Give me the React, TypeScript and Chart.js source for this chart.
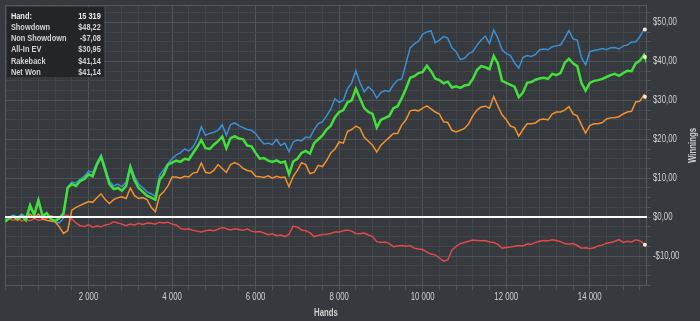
import React, { useEffect, useRef } from "react";
import { Chart, registerables } from "chart.js";

Chart.register(...registerables);

// ---- data ----
const HANDS = [
  0, 100, 200, 300, 400, 500, 600, 700, 800, 900,
  1000, 1100, 1200, 1300, 1400, 1500, 1600, 1700, 1800, 1900,
  2000, 2100, 2200, 2300, 2400, 2500, 2600, 2700, 2800, 2900,
  3000, 3100, 3200, 3300, 3400, 3500, 3600, 3700, 3800, 3900,
  4000, 4100, 4200, 4300, 4400, 4500, 4600, 4700, 4800, 4900,
  5000, 5100, 5200, 5300, 5400, 5500, 5600, 5700, 5800, 5900,
  6000, 6100, 6200, 6300, 6400, 6500, 6600, 6700, 6800, 6900,
  7000, 7100, 7200, 7300, 7400, 7500, 7600, 7700, 7800, 7900,
  8000, 8100, 8200, 8300, 8400, 8500, 8600, 8700, 8800, 8900,
  9000, 9100, 9200, 9300, 9400, 9500, 9600, 9700, 9800, 9900,
  10000, 10100, 10200, 10300, 10400, 10500, 10600, 10700, 10800, 10900,
  11000, 11100, 11200, 11300, 11400, 11500, 11600, 11700, 11800, 11900,
  12000, 12100, 12200, 12300, 12400, 12500, 12600, 12700, 12800, 12900,
  13000, 13100, 13200, 13300, 13400, 13500, 13600, 13700, 13800, 13900,
  14000, 14100, 14200, 14300, 14400, 14500, 14600, 14700, 14800, 14900,
  15000, 15100, 15200, 15300, 15319,
];

const SHOWDOWN = [
  -0.8, 0, 0.5, 0, 0.8, 0, 3.3, 0.8, 4.6, 0.5,
  1.2, -0.6, -1.2, -1.5, -0.3, 7.8, 9, 8.8, 9.8, 10.5,
  11.8, 11.5, 14, 16, 12.8, 9.3, 8, 8.5, 7.8, 9,
  13.4, 10.5, 8.5, 7.5, 6.5, 6, 5.3, 10.8, 12.2, 13.8,
  15, 16, 16.5, 17.5, 17, 18, 20, 23.2, 21, 21.5,
  21.8, 22.3, 23.7, 21, 23.8, 24.2, 23.5, 23, 22.5, 22.3,
  21.5, 20, 18.8, 19, 18.6, 20, 18.4, 19, 16.8, 19.3,
  19.8, 19.6, 20.6, 20.4, 22.5, 24, 24.5, 26, 27.8, 30.4,
  29.5, 30, 33, 34.5, 37.6, 34.5, 32.2, 33.5, 32.5, 30.6,
  32, 32.5, 32.3, 34, 35.2, 35.5, 39.5, 43.5, 44.5, 45.2,
  47, 47.6, 47.9, 44.8, 45.5, 46.4, 46, 43.5, 42.5, 40.5,
  40.8, 42, 42.5, 44.2, 45.5, 46.5, 44.6, 48.1, 46, 43,
  42, 41.5, 39.6, 38.3, 41, 41.5, 41.3, 41.8, 43, 43.2,
  43, 43.8, 44, 44.2, 46, 47.9, 45.8, 45.5, 41, 39.1,
  42.5, 42.8, 43, 43.3, 43, 43.5, 43.6, 43.2, 44, 44.2,
  45, 45, 46.4, 48.3, 48.22,
];

const NON_SHOWDOWN = [
  0, -0.5, -0.8, -0.5, -1, -0.7, -0.9, -0.4, -0.8, -0.6,
  -0.3, 0.4, 0, -0.3, 0.3, 0.5, -0.5, -1.5, -2.2, -2.4,
  -2, -2.6, -2.3, -2.5, -2, -1.8, -1.2, -1.5, -1.8, -2.2,
  -1.8, -2, -1.6, -1.9, -1.5, -1.6, -1.8, -1.3, -1.5, -1.3,
  -1.8, -2, -2.9, -3.2, -3, -3.4, -3.6, -3.8, -3.5, -3.3,
  -3.5, -3.1, -2.7, -3, -3.3, -3, -3.2, -3.4, -3, -3.6,
  -3.8, -3.7, -4.1, -4.5, -4.3, -4.8, -4.6, -5, -4.4, -2.3,
  -2.6, -3.3, -3.5, -4, -5, -4.7, -4.5, -4.4, -4.2, -3.8,
  -3.8, -3.5, -3.3, -3.6, -4.2, -4.3, -4.1, -4.6, -5, -6.3,
  -6.5, -6.4, -6.8, -7.6, -7.4, -7.3, -7.5, -7.3, -8, -8.2,
  -8.3, -9, -9.5, -9.7, -10.5, -11.3, -11, -8.5, -7.5, -6.8,
  -6.5, -6.2, -5.9, -6, -6.1, -6, -6.4, -6.5, -7, -8,
  -7.8, -7.7, -7.5, -7.3, -7.4, -6.9, -7, -6.5, -6.2, -6,
  -6.1, -5.8, -6, -6.3, -6.8, -7, -6.8, -7.3, -8, -7.9,
  -8.1, -7.9, -7.4, -7.2, -6.7, -6.5, -6.2, -5.8, -6.5, -6.2,
  -6.4, -5.8, -6.1, -6.8, -7.08,
];

const ALL_IN_EV = [
  0, -0.3, 0, -0.8, 0.2, -0.5, 0.8, -0.3, 0.8, -0.5,
  -0.8, -1, -1.2, -2.5, -4.2, -3.5, 1.8, 2.5, 3, 3.5,
  4, 3.8, 5, 6, 4.5, 3.5, 4.5, 5, 5.2, 4.8,
  7.5, 5.5, 4.8, 5, 4.5, 2.5, 1.4, 5.5, 6.5, 8,
  10.3, 10.3, 10, 10.5, 10.3, 11.3, 11.5, 13.9, 11.5, 11.3,
  12, 13.5, 12.5, 11.5, 13.5, 14, 13.5, 12.5, 12, 11.8,
  10.5, 10.4, 10.2, 10.6, 10, 10.5, 10.2, 10.3, 7.8, 10.5,
  12, 14, 13.5, 11.2, 11.5, 13.3, 13, 14.5, 16.5, 17.5,
  19.3, 19, 22, 22.5, 23.4, 22.8, 20.5, 19.5, 18.5, 16.7,
  18.5, 19.5, 20.5, 21.5, 21.5, 23.7, 25, 27.3, 27.5, 27.3,
  28, 28.6, 27.8, 27, 26.5, 24.5, 24.3, 22.3, 21.9, 22.3,
  22.8, 24, 26, 27.5, 28.3, 28.5, 28, 31, 28.5, 26.3,
  25, 23.4, 23, 20.8, 22.5, 24, 24, 24.2, 25, 25.2,
  25, 26.5, 27, 27, 27.5, 28.4, 26.5, 26, 23.7, 21.6,
  23.5, 24, 24, 24.3, 25.2, 25.5, 25.6, 25.8, 26.5, 27,
  27.2, 29.6, 29.8, 31.4, 30.95,
];

const NET_WON = [
  -1.2, -0.3, 0.2, -0.5, 0.3, -0.8, 3, 0.5, 4.3, 0.2,
  1, -0.5, -1, -0.3, 1, 7.5, 8.5, 8, 9.3, 9.8,
  11, 10.5, 13.5, 15.5, 12, 8.5, 7.2, 7.5, 6.8, 8,
  12.8, 9.5, 7.5, 6.5, 5.5, 5, 4.5, 9.5, 11, 13.5,
  14, 14.5, 14.2, 15, 14.8, 16.4, 18, 19.8, 17.7, 17.5,
  18.6, 19.5, 20.7, 17.7, 20.3, 20.8, 20.2, 20, 18.4, 18.2,
  16.5, 15, 15.2, 14.5, 14.2, 14.6, 14, 14.3, 11, 14.3,
  15, 16.5, 17, 16.3, 19, 20, 21, 22.5, 23.5, 25.7,
  27, 27.5, 29.5, 30, 33, 30.5, 28, 27, 26.5, 23,
  25, 25.5, 26, 28, 28.5, 30.6, 33, 35.8, 36.2, 37,
  37.3, 38.9, 37.5, 35.6, 35.2, 34.4, 34.8, 33.3, 33.6, 33.2,
  33.8, 34, 35.5, 37.8, 38.8, 38.5, 38, 41.4, 39.5, 35,
  34.5, 34, 33.5, 30.8, 32, 34.5, 34.7, 35.3, 35.6, 35.8,
  35.5, 36.8, 36.5, 37, 39.6, 40.7, 39.5, 38.8, 34.5, 32.5,
  34.5, 35, 35.2, 35.5, 36, 36.5, 36.8, 36.3, 37, 37.6,
  37.5, 39.5, 40.2, 41.7, 41.14,
];

const SUMMARY_LABELS = ["Hand:", "Showdown", "Non Showdown", "All-In EV", "Rakeback", "Net Won"];
const SUMMARY_VALUES = ["15 319", "$48,22", "-$7,08", "$30,95", "$41,14", "$41,14"];

const X_MIN = 0;
const X_MAX = 15370;
const X_STEP = 400;
const X_LABEL_STEP = 2000;
const Y_MIN = -17.7;
const Y_MAX = 54.5;
const Y_STEP = 2.5;
const Y_LABEL_STEP = 10;

// ---- styles ----
const BG = "#36393d";
const GRID_MINOR = "#424549";
const GRID_MAJOR = "#505459";
const BORDER = "#55585d";
const TEXT = "#d2d2d2";
const FONT = "'Liberation Sans', Arial, sans-serif";
const SQUEEZE = 0.78;

const fmtHands = (v: number) => String(Math.round(v)).replace(/\B(?=(\d{3})+(?!\d))/g, " ");
const fmtMoney = (v: number) => (v < 0 ? "-" : "") + "$" + Math.abs(v).toFixed(2).replace(".", ",");
const isMult = (v: number, m: number) => Math.abs(v / m - Math.round(v / m)) < 1e-6;

const series = (ys: number[]) => ys.map((y, i) => ({ x: HANDS[i], y }));

const stepTicks = (min: number, max: number, step: number) => {
  const out: { value: number }[] = [];
  for (let v = Math.ceil(min / step) * step; v <= max + 1e-9; v += step) out.push({ value: Math.round(v * 100) / 100 });
  return out;
};

function squeezedText(c: CanvasRenderingContext2D, s: string, x: number, y: number, align: CanvasTextAlign, font: string, rot = 0) {
  c.save();
  c.font = font;
  c.fillStyle = TEXT;
  c.textAlign = align;
  c.textBaseline = "middle";
  c.translate(x, y);
  if (rot) c.rotate(rot);
  c.scale(SQUEEZE, 1);
  c.fillText(s, 0, 0);
  c.restore();
}

export default function App() {
  const ref = useRef<HTMLCanvasElement | null>(null);

  useEffect(() => {
    const canvas = ref.current;
    if (!canvas) return;

    const deco = {
      id: "deco",
      beforeDraw(chart: any) {
        const c = chart.ctx;
        c.save();
        c.fillStyle = BG;
        c.fillRect(0, 0, chart.width, chart.height);
        c.restore();
      },
      beforeDatasetsDraw(chart: any) {
        const a = chart.chartArea;
        const c = chart.ctx;
        c.save();
        c.strokeStyle = BORDER;
        c.lineWidth = 1;
        c.strokeRect(a.left + 0.5, a.top + 0.5, a.right - a.left - 1, a.bottom - a.top - 1);
        c.restore();
      },
      afterDatasetsDraw(chart: any) {
        const a = chart.chartArea;
        const c = chart.ctx;
        const y0 = chart.scales.y.getPixelForValue(0);
        c.save();
        c.strokeStyle = "#ffffff";
        c.lineWidth = 2;
        c.beginPath();
        c.moveTo(a.left, y0);
        c.lineTo(a.right, y0);
        c.stroke();
        c.restore();
      },
      afterDraw(chart: any) {
        const a = chart.chartArea;
        const c = chart.ctx;
        const xs = chart.scales.x;
        const ys = chart.scales.y;
        const tickFont = "10px " + FONT;
        xs.ticks.forEach((t: any) => {
          if (t.value > 0 && isMult(t.value, X_LABEL_STEP)) {
            squeezedText(c, fmtHands(t.value), xs.getPixelForValue(t.value), 297, "center", tickFont);
          }
        });
        ys.ticks.forEach((t: any) => {
          if (isMult(t.value, Y_LABEL_STEP)) {
            squeezedText(c, fmtMoney(t.value), a.right + 6, ys.getPixelForValue(t.value), "left", tickFont);
          }
        });
        const titleFont = "bold 10px " + FONT;
        squeezedText(c, "Hands", (a.left + a.right) / 2, 313, "center", titleFont);
        squeezedText(c, "Winnings", 693, (a.top + a.bottom) / 2, "center", titleFont, -Math.PI / 2);
      },
    };

    const n = HANDS.length;
    const mk = (label: string, data: number[], color: string, width: number) => ({
      label,
      data: series(data),
      borderColor: color,
      backgroundColor: color,
      borderWidth: width,
      pointRadius: (ctx: any) => (ctx.dataIndex === n - 1 ? 2 : 0),
      pointHoverRadius: 0,
      pointBackgroundColor: "#f3ead0",
      pointBorderWidth: 0,
      tension: 0,
      fill: false,
    });

    const chart = new Chart(canvas, {
      type: "line",
      data: {
        datasets: [
          mk("Net Won", NET_WON, "#43e03b", 2.5),
          mk("All-In EV", ALL_IN_EV, "#f0922e", 1.5),
          mk("Non Showdown", NON_SHOWDOWN, "#e04a4a", 1.5),
          mk("Showdown", SHOWDOWN, "#3a90d4", 1.5),
        ],
      },
      options: {
        animation: false,
        responsive: false,
        maintainAspectRatio: false,
        layout: { padding: { left: 5, top: 5, right: 0, bottom: 0 } },
        plugins: { legend: { display: false }, tooltip: { enabled: false } },
        scales: {
          x: {
            type: "linear",
            min: X_MIN,
            max: X_MAX,
            bounds: "data",
            afterBuildTicks: (s: any) => {
              s.ticks = stepTicks(X_MIN, X_MAX, X_STEP);
            },
            afterFit: (s: any) => {
              s.height = 35;
            },
            border: { display: false },
            grid: {
              color: (ctx: any) => (ctx.tick && isMult(ctx.tick.value, X_LABEL_STEP) ? GRID_MAJOR : GRID_MINOR),
              tickColor: GRID_MAJOR,
              tickLength: 4,
              lineWidth: 1,
            },
            ticks: { display: false, autoSkip: false },
          },
          y: {
            type: "linear",
            position: "right",
            min: Y_MIN,
            max: Y_MAX,
            bounds: "data",
            afterBuildTicks: (s: any) => {
              s.ticks = stepTicks(Y_MIN, Y_MAX, Y_STEP);
            },
            afterFit: (s: any) => {
              s.width = 53;
            },
            border: { display: false },
            grid: {
              color: (ctx: any) => (ctx.tick && isMult(ctx.tick.value, Y_LABEL_STEP) ? GRID_MAJOR : GRID_MINOR),
              tickColor: GRID_MAJOR,
              tickLength: 4,
              lineWidth: 1,
            },
            ticks: { display: false, autoSkip: false },
          },
        },
      },
      plugins: [deco],
    } as any);

    return () => chart.destroy();
  }, []);

  return (
    <div style={{ position: "absolute", left: 0, top: 0, width: 700, height: 321, background: BG, overflow: "hidden" }}>
      <canvas ref={ref} width={700} height={321} style={{ width: 700, height: 321, display: "block" }} />
      <div
        style={{
          position: "absolute",
          left: 7,
          top: 7,
          width: 97,
          height: 70,
          background: "rgba(34,36,39,0.92)",
          overflow: "hidden",
        }}
      >
        <div
          style={{
            width: 97 / SQUEEZE,
            boxSizing: "border-box",
            padding: "2.7px 4px 0 5px",
            transform: `scaleX(${SQUEEZE})`,
            transformOrigin: "0 0",
            fontFamily: FONT,
            fontSize: 9.5,
            fontWeight: "bold",
            color: TEXT,
            lineHeight: "11.2px",
            whiteSpace: "nowrap",
          }}
        >
          {SUMMARY_LABELS.map((lab, i) => (
            <div key={lab} style={{ display: "flex", justifyContent: "space-between", color: i === 0 ? "#eeeeee" : TEXT }}>
              <span>{lab}</span>
              <span>{SUMMARY_VALUES[i]}</span>
            </div>
          ))}
        </div>
      </div>
    </div>
  );
}
